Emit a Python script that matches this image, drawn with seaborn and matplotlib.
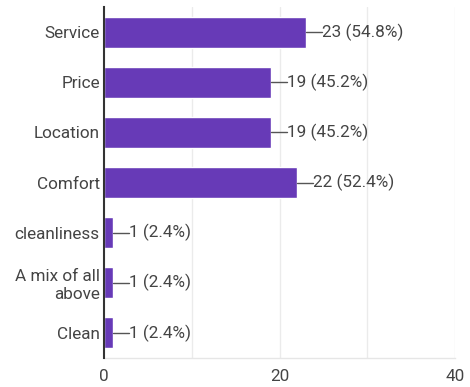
import matplotlib
matplotlib.use("Agg")
import matplotlib.pyplot as plt
import seaborn as sns
import pandas as pd

categories = ["Service", "Price", "Location", "Comfort", "cleanliness", "A mix of all\nabove", "Clean"]
counts = [23, 19, 19, 22, 1, 1, 1]
percents = ["54.8%", "45.2%", "45.2%", "52.4%", "2.4%", "2.4%", "2.4%"]
xticks = [0, 20, 40]

sns.set_theme(style="white")
plt.rcParams['font.family'] = ['Roboto', 'DejaVu Sans']

df = pd.DataFrame({"cat": categories, "n": counts})

fig = plt.figure(figsize=(4.7, 3.87), dpi=100)
ax = fig.add_axes([104/470, 1-358/387, (455-104)/470, (358-7)/387])

for g in [10, 20, 30, 40]:
    ax.axvline(g, color="#ebebeb", lw=1, zorder=0)

sns.barplot(data=df, x="n", y="cat", orient="h", color="#673ab7", width=0.62,
            saturation=1, ax=ax, zorder=2)

for i, (v, p) in enumerate(zip(counts, percents)):
    ax.plot([v, v + 1.8], [i, i], color="#555555", lw=1, zorder=3)
    ax.text(v + 1.85, i, f"{v} ({p})", va="center", ha="left", fontsize=12.3, color="#444444")

ax.set_xlim(0, 40)
ax.set_ylim(6.5, -0.5)
ax.set_xticks(xticks)
ax.set_xticklabels([str(t) for t in xticks])
ax.set_xlabel("")
ax.set_ylabel("")
ax.tick_params(axis="both", length=0, labelsize=12.3, labelcolor="#444444")
ax.tick_params(axis="x", pad=8)
ax.tick_params(axis="y", pad=3)
for t in ax.get_yticklabels():
    t.set_ha("right")
    t.set_multialignment("right")

for s in ["top", "right"]:
    ax.spines[s].set_visible(False)
ax.spines["left"].set_color("#333333")
ax.spines["left"].set_linewidth(1.5)
ax.spines["left"].set_zorder(4)
ax.spines["bottom"].set_color("#e6e6e6")
ax.spines["bottom"].set_linewidth(1)

fig.savefig("out.png", dpi=100)
